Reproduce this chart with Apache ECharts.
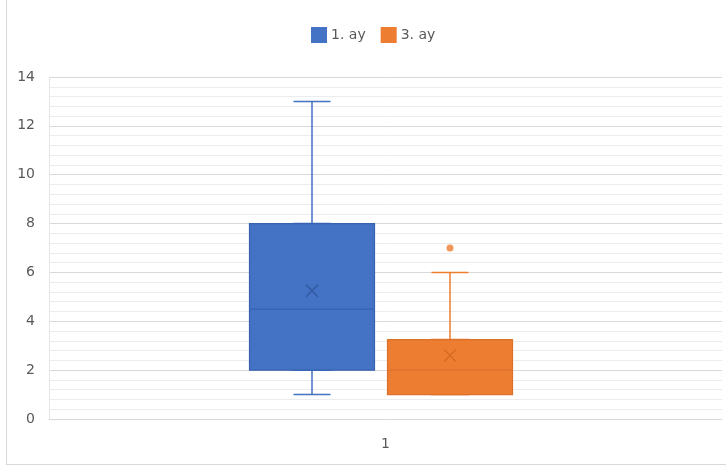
<!DOCTYPE html>
<html>
<head>
<meta charset="utf-8">
<script src="https://cdn.jsdelivr.net/npm/echarts@6/dist/echarts.min.js"></script>
<style>
  html, body { margin: 0; padding: 0; background: #ffffff; }
  #chart { width: 726px; height: 470px; }
</style>
</head>
<body>
<div id="chart"></div>
<script>
// Category shown on the x axis
const categories = ['1'];
// Series names
const seriesNames = ['1. ay', '3. ay'];
// Five-number summaries: [min, Q1, median, Q3, max]
const ay1Box = [1, 2, 4.5, 8, 13];
const ay3Box = [1, 1, 2, 3.25, 6];
// Means (drawn as crosses)
const ay1Mean = 5.25;
const ay3Mean = 2.6;
// Outliers
const ay1Outliers = [];
const ay3Outliers = [7];
// Y axis ticks
const yMin = 0, yMax = 14, yStep = 2;

const BLUE = '#4472C4', BLUE_DARK = '#3762B0';
const ORANGE = '#ED7D31', ORANGE_DARK = '#DB722C';
const FONT = 'DejaVu Sans';

const crossPath = 'path://M0,0L10,10M10,0L0,10';

// whisker layer: narrow box whose caps give short whisker ends
function whiskerData(b) { return [b]; }
// body layer: box only (whiskers collapsed onto the box edges)
function bodyData(b) { return [[b[1], b[1], b[2], b[3], b[3]]]; }

const gridTop = 77, gridBottom = 51;
const hiddenY = (gi) => ({
  type: 'value', gridIndex: gi, min: yMin, max: yMax, interval: yStep, show: false
});
const hiddenX = (gi, pos) => ({
  type: 'category', gridIndex: gi, position: pos, data: categories, show: false
});

const chart = echarts.init(document.getElementById('chart'), null, { renderer: 'canvas' });
chart.setOption({
  animation: false,
  backgroundColor: '#ffffff',
  textStyle: { fontFamily: FONT },
  legend: {
    data: seriesNames,
    top: 27,
    left: 311,
    padding: 0,
    icon: 'rect',
    itemWidth: 14,
    itemHeight: 14,
    itemGap: 15,
    textStyle: { fontFamily: FONT, fontSize: 14, color: '#595959' }
  },
  graphic: [
    { type: 'line', shape: { x1: 6.5, y1: 0, x2: 6.5, y2: 464.5 }, style: { stroke: '#d9d9d9', lineWidth: 1 }, silent: true },
    { type: 'line', shape: { x1: 6, y1: 464.5, x2: 726, y2: 464.5 }, style: { stroke: '#d9d9d9', lineWidth: 1 }, silent: true }
  ],
  grid: [
    { left: 49, right: 4, top: gridTop, bottom: gridBottom },
    { left: 243, width: 138, top: gridTop, bottom: gridBottom },
    { left: 381, width: 138, top: gridTop, bottom: gridBottom }
  ],
  xAxis: [
    {
      type: 'category', gridIndex: 0, data: categories,
      axisTick: { show: false },
      axisLine: { lineStyle: { color: '#d9d9d9' } },
      axisLabel: { color: '#595959', fontSize: 14, fontFamily: FONT, margin: 18 }
    },
    hiddenX(1, 'bottom'),  // 1. ay whiskers
    hiddenX(1, 'top'),     // 1. ay box
    hiddenX(2, 'bottom'),  // 3. ay whiskers
    hiddenX(2, 'top')      // 3. ay box
  ],
  yAxis: [
    {
      type: 'value', gridIndex: 0, min: yMin, max: yMax, interval: yStep,
      axisLine: { show: true, lineStyle: { color: '#e6e6e6' } },
      axisTick: { show: false },
      axisLabel: { color: '#595959', fontSize: 14, fontFamily: FONT, margin: 14 },
      splitLine: { lineStyle: { color: '#d9d9d9', width: 1 } },
      minorTick: { show: false, splitNumber: 5 },
      minorSplitLine: { show: true, lineStyle: { color: '#ececec', width: 1 } }
    },
    hiddenY(1),
    hiddenY(2)
  ],
  series: [
    {
      name: seriesNames[0], type: 'boxplot', xAxisIndex: 1, yAxisIndex: 1,
      boxWidth: [37, 37], data: whiskerData(ay1Box),
      itemStyle: { color: BLUE, borderColor: BLUE, borderWidth: 1.5 }
    },
    {
      name: seriesNames[0], type: 'boxplot', xAxisIndex: 2, yAxisIndex: 1,
      boxWidth: [125, 125], data: bodyData(ay1Box),
      itemStyle: { color: BLUE, borderColor: BLUE_DARK, borderWidth: 1.2 }
    },
    {
      name: seriesNames[1], type: 'boxplot', xAxisIndex: 3, yAxisIndex: 2,
      boxWidth: [37, 37], data: whiskerData(ay3Box),
      itemStyle: { color: ORANGE, borderColor: ORANGE, borderWidth: 1.5 }
    },
    {
      name: seriesNames[1], type: 'boxplot', xAxisIndex: 4, yAxisIndex: 2,
      boxWidth: [125, 125], data: bodyData(ay3Box),
      itemStyle: { color: ORANGE, borderColor: ORANGE_DARK, borderWidth: 1.2 }
    },
    {
      name: seriesNames[0], type: 'scatter', xAxisIndex: 1, yAxisIndex: 1,
      symbol: crossPath, symbolSize: 12, z: 5,
      data: [[0, ay1Mean]],
      itemStyle: { color: 'rgba(0,0,0,0)', borderColor: 'rgba(38,74,140,0.75)', borderWidth: 1.5 }
    },
    {
      name: seriesNames[1], type: 'scatter', xAxisIndex: 3, yAxisIndex: 2,
      symbol: crossPath, symbolSize: 12, z: 5,
      data: [[0, ay3Mean]],
      itemStyle: { color: 'rgba(0,0,0,0)', borderColor: 'rgba(190,90,25,0.6)', borderWidth: 1.5 }
    },
    {
      name: seriesNames[0], type: 'scatter', xAxisIndex: 1, yAxisIndex: 1,
      symbol: 'circle', symbolSize: 7, z: 5,
      data: ay1Outliers.map(v => [0, v]),
      itemStyle: { color: BLUE }
    },
    {
      name: seriesNames[1], type: 'scatter', xAxisIndex: 3, yAxisIndex: 2,
      symbol: 'circle', symbolSize: 7, z: 5,
      data: ay3Outliers.map(v => [0, v]),
      itemStyle: { color: ORANGE }
    }
  ]
});
</script>
</body>
</html>
